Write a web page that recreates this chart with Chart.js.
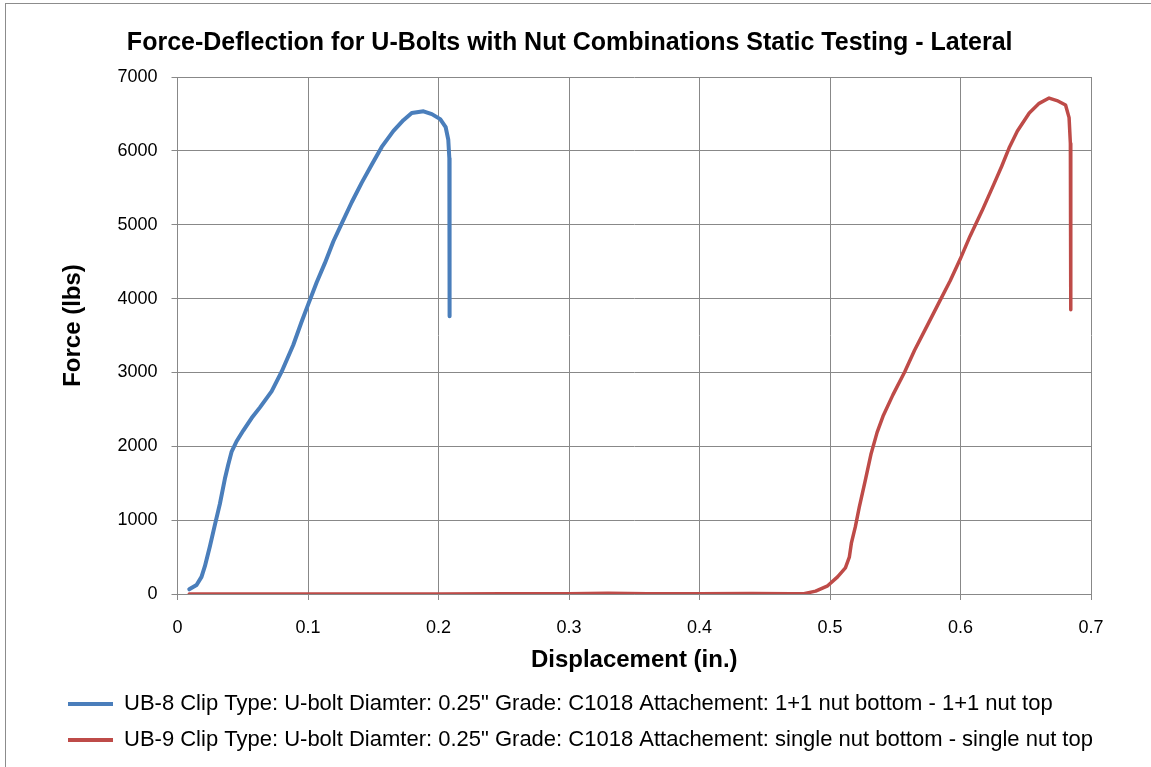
<!DOCTYPE html>
<html>
<head>
<meta charset="utf-8">
<script src="https://cdn.jsdelivr.net/npm/chart.js@4.4.1/dist/chart.umd.min.js"></script>
<style>
  html, body { margin: 0; padding: 0; background: #fff; }
  #wrap { position: relative; width: 1151px; height: 767px; }
  #frame { position: absolute; left: 5px; top: 3px; right: 0; bottom: 0;
           border-left: 1px solid #8c8c8c; border-top: 1px solid #8c8c8c; }
  canvas { position: absolute; left: 0; top: 0; }
</style>
</head>
<body>
<div id="wrap">
  <div id="frame"></div>
  <canvas id="chart" width="1151" height="767"></canvas>
</div>
<script>
// chart texts
const chartTitle = "Force-Deflection for U-Bolts with Nut Combinations Static Testing - Lateral        "; // trailing spaces pull it left
const xTitle = "Displacement (in.)";
const yTitle = "   Force (lbs)"; // leading spaces nudge it up like the original
const seriesNames = [
  "UB-8 Clip Type: U-bolt Diamter: 0.25\" Grade: C1018 Attachement: 1+1 nut bottom - 1+1 nut top",
  "UB-9 Clip Type: U-bolt Diamter: 0.25\" Grade: C1018 Attachement: single nut bottom - single nut top"
];

// UB-8 (blue)
const ub8X = [0.009, 0.0146, 0.0184, 0.021, 0.0248, 0.0286, 0.0325, 0.0363, 0.0389, 0.0414, 0.0453,
  0.0504, 0.0568, 0.0632, 0.0721, 0.0798, 0.0887, 0.0951, 0.1003, 0.1066, 0.113, 0.1194, 0.1258,
  0.1335, 0.1412, 0.1488, 0.1565, 0.1655, 0.1731, 0.1795, 0.1885, 0.1949, 0.2013, 0.2055, 0.2075,
  0.2083, 0.2085, 0.2085];
const ub8Y = [63, 121, 232, 377, 642, 932, 1222, 1560, 1754, 1923, 2068,
  2213, 2382, 2527, 2744, 3010, 3372, 3686, 3928, 4217, 4483, 4773, 5014,
  5304, 5570, 5812, 6053, 6270, 6415, 6512, 6536, 6497, 6430, 6320, 6150,
  5900, 5000, 3760];

// UB-9 (red)
const ub9X = [0.009, 0.05, 0.1, 0.15, 0.2, 0.25, 0.3, 0.33, 0.36, 0.4, 0.44, 0.47, 0.48,
  0.489, 0.4982, 0.5058, 0.5118, 0.5148, 0.5164, 0.5194, 0.5224, 0.527, 0.5315, 0.5361, 0.5406,
  0.5482, 0.5573, 0.5648, 0.5739, 0.583, 0.5921, 0.5997, 0.6073, 0.6164, 0.6255, 0.6315, 0.6376,
  0.6436, 0.6527, 0.6603, 0.6679, 0.6739, 0.6805, 0.6832, 0.6842, 0.6845, 0.6845];
const ub9Y = [0, 0, 0, 0, 0, 2, 4, 10, 5, 2, 6, 3, 5,
  39, 111, 232, 353, 498, 691, 908, 1174, 1536, 1899, 2188, 2406,
  2696, 3010, 3300, 3614, 3928, 4242, 4531, 4845, 5184, 5546, 5788, 6053,
  6270, 6512, 6643, 6715, 6681, 6620, 6450, 6100, 5200, 3850];

// axis ticks
const xTicks = [0, 0.1, 0.2, 0.3, 0.4, 0.5, 0.6, 0.7];
const yTicks = [0, 1000, 2000, 3000, 4000, 5000, 6000, 7000];

const colors = ["#4a7ebb", "#be4b48"];
const font = "'Liberation Sans', Arial, sans-serif";

const toPoints = (xs, ys) => xs.map((x, i) => ({ x: x, y: ys[i] }));

new Chart(document.getElementById("chart").getContext("2d"), {
  type: "scatter",
  data: {
    datasets: [
      { label: seriesNames[0], data: toPoints(ub8X, ub8Y), borderColor: colors[0], backgroundColor: colors[0], borderWidth: 4 },
      { label: seriesNames[1], data: toPoints(ub9X, ub9Y), borderColor: colors[1], backgroundColor: colors[1], borderWidth: 3.5 }
    ].map(d => Object.assign(d, { showLine: true, pointRadius: 0, tension: 0, borderCapStyle: "round", borderJoinStyle: "round" }))
  },
  options: {
    responsive: false,
    animation: false,
    layout: { padding: { left: 54, right: 10, top: 0, bottom: 6 } },
    plugins: {
      title: {
        display: true, text: chartTitle, color: "#000",
        font: { family: font, size: 25, weight: "bold", lineHeight: 1.2 },
        padding: { top: 28, bottom: 19 }
      },
      legend: {
        position: "bottom", align: "start",
        labels: {
          color: "#000", boxWidth: 45, boxHeight: 4, padding: 14,
          font: { family: font, size: 22 },
          generateLabels: (chart) => Chart.defaults.plugins.legend.labels.generateLabels(chart)
            .map(l => Object.assign(l, { lineWidth: 0 }))
        }
      },
      tooltip: { enabled: false }
    },
    scales: {
      x: {
        type: "linear", min: 0, max: 0.7,
        afterBuildTicks: (s) => { s.ticks = xTicks.map(v => ({ value: v })); },
        afterFit: (s) => { s.height = 85; },
        grid: { color: "#888", lineWidth: 1, tickLength: 6 },
        border: { color: "#888" },
        ticks: { color: "#000", padding: 17, font: { family: font, size: 18 }, maxRotation: 0,
                 callback: (v) => String(v) },
        title: { display: true, text: xTitle, color: "#000", padding: { top: 0, bottom: 4 },
                 font: { family: font, size: 24, weight: "bold" } }
      },
      y: {
        type: "linear", min: 0, max: 7000,
        afterBuildTicks: (s) => { s.ticks = yTicks.map(v => ({ value: v })); },
        afterFit: (s) => { s.width = 123.5; },
        grid: { color: "#888", lineWidth: 1, tickLength: 6 },
        border: { color: "#888" },
        ticks: { color: "#000", padding: 14, font: { family: font, size: 18 },
                 callback: (v) => String(v) },
        title: { display: true, text: yTitle, color: "#000", padding: { top: 5, bottom: 0 },
                 font: { family: font, size: 24, weight: "bold" } }
      },
      // empty right-hand spacer so the plot ends where the original does
      spacer: {
        type: "linear", position: "right", min: 0, max: 1,
        afterFit: (s) => { s.width = 50; },
        grid: { display: false, drawTicks: false }, border: { display: false },
        ticks: { display: false }
      }
    }
  }
});
</script>
</body>
</html>
